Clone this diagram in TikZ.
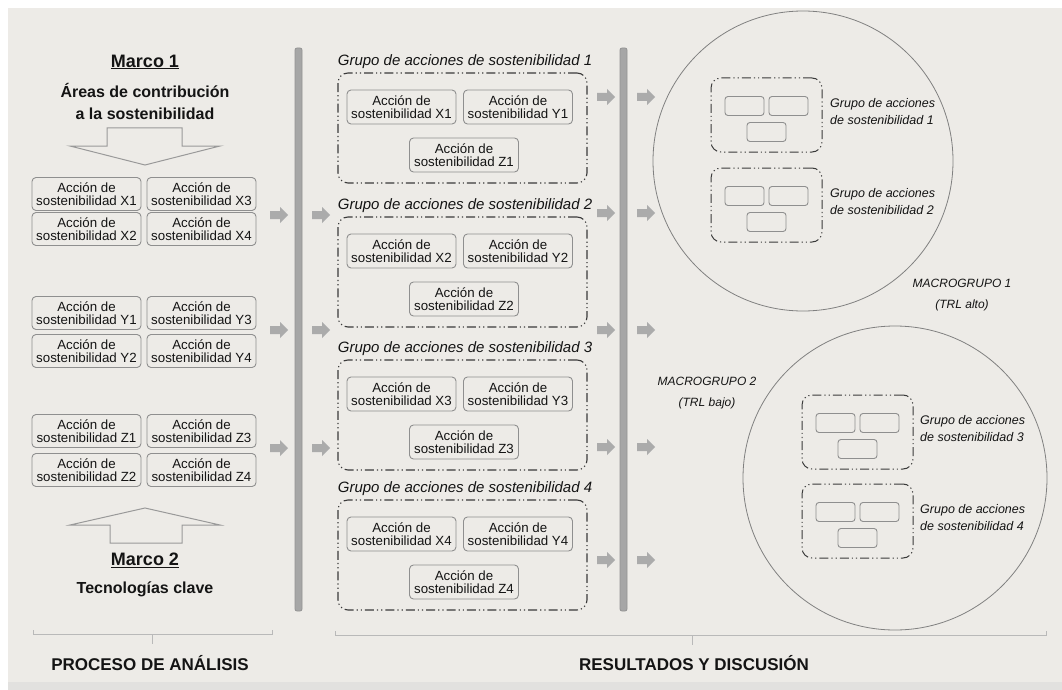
\documentclass[tikz,border=0pt]{standalone}
\usepackage{fontspec}
\setmainfont{Liberation Sans}
\definecolor{fondo}{HTML}{EDEBE7}
\definecolor{fondob}{HTML}{E2E1DF}
\definecolor{texto}{HTML}{141414}
\definecolor{grisflecha}{HTML}{ABABAB}
\definecolor{bordecaja}{HTML}{8F8F8F}
\definecolor{gristrazo}{HTML}{3A3A3A}
\tikzset{
	caja/.style={draw=bordecaja, rounded corners=4pt, line width=0.9pt, minimum width=109pt, minimum height=33pt, align=center, inner sep=1pt, text=texto, font=\fontsize{13.3}{12.8}\selectfont},
	minicaja/.style={draw=bordecaja, rounded corners=3pt, line width=0.9pt, minimum width=39pt, minimum height=19pt, inner sep=0pt},
	grupo/.style={draw=gristrazo, rounded corners=10pt, line width=1.1pt, dash pattern=on 9pt off 3pt on 1.2pt off 3pt on 1.2pt off 3pt},
	titgrupo/.style={text=texto, font=\fontsize{15}{15}\selectfont\itshape, inner sep=0pt},
	etiq/.style={text=texto, font=\fontsize{12.5}{17}\selectfont\itshape, align=left, inner sep=0pt},
	macro/.style={text=texto, font=\fontsize{12}{21}\selectfont\itshape, align=center, inner sep=0pt},
	marco/.style={text=texto, font=\fontsize{18}{22}\selectfont\bfseries, inner sep=1pt},
	sub/.style={text=texto, font=\fontsize{16}{22}\selectfont\bfseries, align=center, inner sep=0pt},
	pie/.style={text=texto, font=\fontsize{17}{17}\selectfont\bfseries, inner sep=0pt},
	hueco/.style={draw=gray!80, line width=1pt},
	barra/.style={fill=gray!70, draw=gray!85, line width=0.8pt, rounded corners=2pt},
	llave/.style={draw=gray!55, line width=1pt},
	circulo/.style={circle, draw=gray, line width=0.8pt, inner sep=0pt},
	flecha/.pic={\fill[grisflecha](0, -4)--(10, -4)--(10, -8)--(18, 0)--(10, 8)--(10, 4)--(0, 4)--cycle;}
}
\begin{document}
\begin{tikzpicture}[x=1pt, y=-1pt]
	\useasboundingbox(0, 0) rectangle (1062, 690);
	\fill[white](0, 0) rectangle (1062, 690);
	\fill[fondo](8, 8) rectangle (1062, 682);
	\fill[fondob](8, 682) rectangle (1062, 690);
	\node[marco](m1) at (145, 62) {\underline{Marco 1}};
	\node[sub](areas) at (145, 101) {Áreas de contribución\\a la sostenibilidad};
	\draw[hueco](107, 128)--(182, 128)--(182, 146)--(220, 146)--(145, 165)--(70, 146)--(107, 146)--cycle;
	\foreach \l/\ya/\yb in {X/194/229, Y/313/351, Z/431/470}{
		\node[caja](\l1) at (86.5, \ya) {Acción de\\sostenibilidad \l1};
		\node[caja](\l2) at (86.5, \yb) {Acción de\\sostenibilidad \l2};
		\node[caja](\l3) at (201.5, \ya) {Acción de\\sostenibilidad \l3};
		\node[caja](\l4) at (201.5, \yb) {Acción de\\sostenibilidad \l4};
	}
	\draw[hueco](110, 543)--(110, 525)--(70, 525)--(145, 508)--(220, 525)--(182, 525)--(182, 543)--cycle;
	\node[marco](m2) at (145, 560) {\underline{Marco 2}};
	\node[sub](tec) at (145, 589) {Tecnologías clave};
	\draw[barra](295, 48) rectangle (302, 611);
	\draw[barra](620, 48) rectangle (627, 611);
	\foreach \y in {215, 330, 448}{
		\pic at (270, \y) {flecha};
		\pic at (312, \y) {flecha};
	}
	\foreach \y in {97, 213, 330, 447, 560}{
		\pic at (597, \y) {flecha};
		\pic at (637, \y) {flecha};
	}
	\foreach \n/\t in {1/73, 2/217, 3/360, 4/500}{
		\node[titgrupo](tg\n) at (465, \t-11) {Grupo de acciones de sostenibilidad \n};
		\node[grupo, minimum width=249pt, minimum height=110pt](g\n) at (462.5, \t+55) {};
		\node[caja, minimum height=34pt](gx\n) at (401.5, \t+34) {Acción de\\sostenibilidad X\n};
		\node[caja, minimum height=34pt](gy\n) at (518, \t+34) {Acción de\\sostenibilidad Y\n};
		\node[caja, minimum height=34pt](gz\n) at (464, \t+82) {Acción de\\sostenibilidad Z\n};
	}
	\node[circulo, minimum size=300pt](c1) at (803, 161) {};
	\node[circulo, minimum size=304pt](c2) at (895, 478) {};
	\foreach \n/\x/\y/\ex in {1/766.5/115/830, 2/766.5/205/830, 3/857.5/432/920, 4/857.5/521/920}{
		\node[grupo, line width=1pt, minimum width=111pt, minimum height=74pt](mg\n) at (\x, \y) {};
		\node[minicaja](ma\n) at (\x-22, \y-9) {};
		\node[minicaja](mb\n) at (\x+22, \y-9) {};
		\node[minicaja](mc\n) at (\x, \y+17) {};
		\node[etiq, anchor=west](et\n) at (\ex, \y-3) {Grupo de acciones\\de sostenibilidad \n};
	}
	\node[macro](mac1) at (962, 295.5) {MACROGRUPO 1\\(TRL alto)};
	\node[macro](mac2) at (707, 393.5) {MACROGRUPO 2\\(TRL bajo)};
	\draw[llave](33, 630)--(33, 634)--(272, 634)--(272, 630);
	\draw[llave](152, 634)--(152, 644);
	\draw[llave](335, 631)--(335, 635)--(1046, 635)--(1046, 631);
	\draw[llave](692, 635)--(692, 645);
	\node[pie](p1) at (150, 663) {PROCESO DE ANÁLISIS};
	\node[pie](p2) at (694, 663) {RESULTADOS Y DISCUSIÓN};
\end{tikzpicture}
\end{document}
